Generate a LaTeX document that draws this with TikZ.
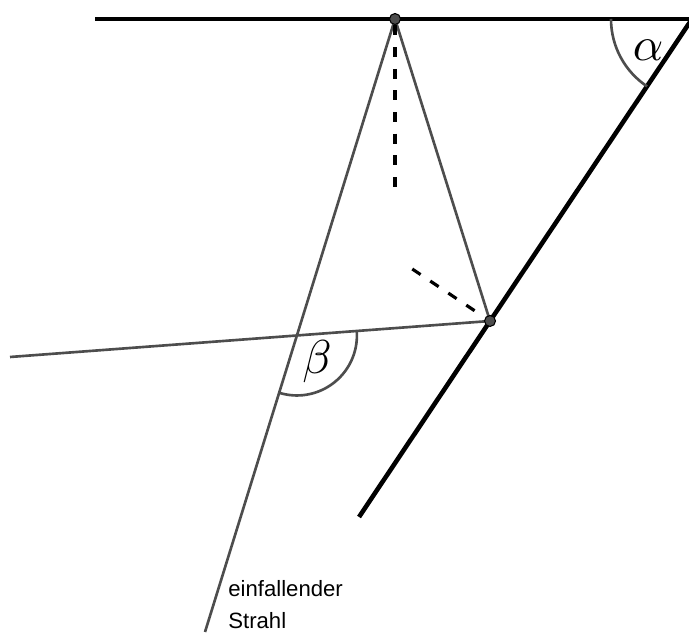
\documentclass[tikz,border=0pt]{standalone}
\usepackage{fontspec}
\usepackage{amsmath}
\usepackage{tikz}
\usetikzlibrary{calc}
\newfontfamily\labelfont{Liberation Sans}
\definecolor{raygrey}{HTML}{4d4d4d}

\begin{document}
\begin{tikzpicture}[
  mirror/.style={line width=2.6pt, black},
  ray/.style={line width=1.5pt, raygrey},
  normal/.style={line width=1.8pt, black, dash pattern=on 0.2cm off 0.233cm, dash phase=0.303cm},
  dot/.style={circle, fill=raygrey, draw=black, line width=0.6pt, inner sep=0pt, minimum size=0.22cm}
]
\clip (0,0) rectangle (13.78,12.74);
% points
\coordinate (L) at (1.9,12.36);
\coordinate (V) at (13.84,12.36);
\coordinate (M) at (7.18,2.40);
\coordinate (S) at (4.1,0.10);
\coordinate (R) at (0.2,5.6);
\coordinate (P1) at (7.9,12.36);
\coordinate (P2) at (9.8,6.32);
\coordinate (N1) at (7.9,9.0);
\coordinate (N2) at ($(P2)!1.87cm!90:(V)$);
\coordinate (B) at (intersection of P1--S and P2--R);
% mirrors
\draw[mirror] (L) -- (V);
\draw[mirror] (M) -- (V);
% rays
\draw[ray] (S) -- (P1) -- (P2) -- (R);
\draw[normal] (P1) -- (N1);
\draw[normal, dash phase=0cm, shorten >=0.14cm] (N2) -- (P2);
% angles
\draw[ray] ($(V)+(180:1.62)$) arc[start angle=180, end angle=236.23, radius=1.62];
\draw[ray] ($(B)+(4.29:1.2)$) arc[start angle=4.29, end angle=-107.22, radius=1.2];
\node[scale=2.7] (alpha) at (12.96,11.74) {$\alpha$};
\node[scale=2.7] (beta) at (6.34,5.5) {$\beta$};
\node[dot] (p1) at (P1) {};
\node[dot] (p2) at (P2) {};
\node[anchor=north west, inner sep=0pt, align=left, font=\labelfont\fontsize{12.6}{18.2}\selectfont] (text) at (4.56,1.14) {einfallender\\Strahl};
\end{tikzpicture}
\end{document}
